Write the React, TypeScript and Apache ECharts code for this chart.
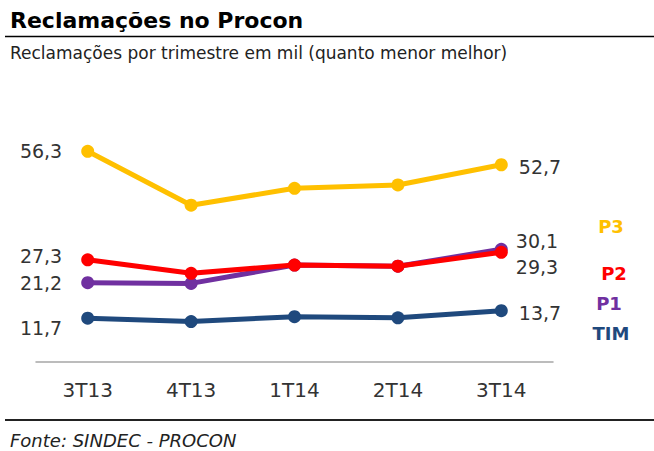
import React, { useEffect, useRef } from "react";
import * as echarts from "echarts";

const categories = ["3T13", "4T13", "1T14", "2T14", "3T14"];
const p3 = [56.3, 41.9, 46.4, 47.3, 52.7];
const p2 = [27.3, 23.7, 25.9, 25.6, 29.3];
const p1 = [21.2, 21.0, 25.9, 25.6, 30.1];
const tim = [11.7, 10.8, 12.1, 11.8, 13.7];
const seriesNames = ["P3", "P1", "P2", "TIM"];
const seriesValues = [p3, p1, p2, tim];

const titleText = "Reclamações no Procon";
const subtitleText = "Reclamações por trimestre em mil (quanto menor melhor)";
const footerText = "Fonte: SINDEC - PROCON";

const COLORS: Record<string, string> = {
  P3: "#FFC000",
  P2: "#FF0000",
  P1: "#7030A0",
  TIM: "#1F497D",
};
// label offsets [leftLabel dy, rightLabel dx, rightLabel dy]
const LABEL_OFFSETS: Record<string, number[]> = {
  P3: [0, 0, 2],
  P1: [0, -3, -8],
  P2: [-4, -3, 15],
  TIM: [10, 0, 2],
};
const LEGEND_POS: Record<string, number[]> = {
  P3: [611, 226],
  P2: [614, 273],
  P1: [609, 303],
  TIM: [611, 333],
};
const legendOrder = ["P3", "P2", "P1", "TIM"];

const FONT = "DejaVu Sans";
const fmt = (v: number) => v.toFixed(1).replace(".", ",");

export default function App() {
  const ref = useRef<HTMLDivElement>(null);
  useEffect(() => {
    if (!ref.current) return;
    const chart = echarts.init(ref.current, null, { renderer: "svg" });
    const labelBase = {
      show: true,
      color: "#333333",
      fontSize: 19,
      fontFamily: FONT,
      formatter: (p: any) => fmt(p.value),
    };
    const series = seriesNames.map((name, si) => {
      const vals = seriesValues[si];
      const off = LABEL_OFFSETS[name];
      return {
        name,
        type: "line",
        symbol: "circle",
        symbolSize: 13,
        lineStyle: { width: 5, color: COLORS[name] },
        itemStyle: { color: COLORS[name] },
        z: 2 + si,
        data: vals.map((v, i) => {
          if (i === 0)
            return {
              value: v,
              label: { ...labelBase, position: "left", distance: 19, offset: [0, off[0]] },
            };
          if (i === vals.length - 1)
            return {
              value: v,
              label: { ...labelBase, position: "right", distance: 11, offset: [off[1], off[2]] },
            };
          return { value: v, label: { show: false } };
        }),
      };
    });
    const graphic: any[] = [
      {
        type: "text",
        left: 10,
        top: 9,
        style: { text: titleText, fontFamily: FONT, fontWeight: "bold", fontSize: 22, fill: "#000" },
      },
      {
        type: "line",
        shape: { x1: 5, y1: 36.5, x2: 654, y2: 36.5 },
        style: { stroke: "#000", lineWidth: 1.5 },
      },
      {
        type: "text",
        left: 10,
        top: 44,
        style: { text: subtitleText, fontFamily: FONT, fontSize: 17, fill: "#222" },
      },
      {
        type: "line",
        shape: { x1: 5, y1: 420, x2: 654, y2: 420 },
        style: { stroke: "#222", lineWidth: 2 },
      },
      {
        type: "text",
        left: 10,
        top: 431,
        style: { text: footerText, fontFamily: FONT, fontStyle: "italic", fontSize: 18, fill: "#222" },
      },
      ...legendOrder.map((name) => ({
        type: "text",
        x: LEGEND_POS[name][0],
        y: LEGEND_POS[name][1],
        style: {
          text: name,
          fontFamily: FONT,
          fontWeight: "bold",
          fontSize: 18,
          fill: COLORS[name],
          align: "center",
          verticalAlign: "middle",
        },
      })),
    ];
    chart.setOption({
      animation: false,
      backgroundColor: "#ffffff",
      grid: { left: 36, right: 101, top: 100, bottom: 89, containLabel: false },
      xAxis: {
        type: "category",
        data: categories,
        boundaryGap: true,
        axisLine: { lineStyle: { color: "#A6A6A6", width: 1.5 } },
        axisTick: { show: false },
        axisLabel: { margin: 18, color: "#333333", fontSize: 20, fontFamily: FONT },
        splitLine: { show: false },
      },
      yAxis: {
        type: "value",
        min: 0,
        max: 70,
        show: false,
        splitLine: { show: false },
      },
      series,
      graphic,
    });
    return () => chart.dispose();
  }, []);
  return (
    <div
      ref={ref}
      style={{ position: "fixed", left: 0, top: 0, width: 654, height: 451, background: "#fff" }}
    />
  );
}
